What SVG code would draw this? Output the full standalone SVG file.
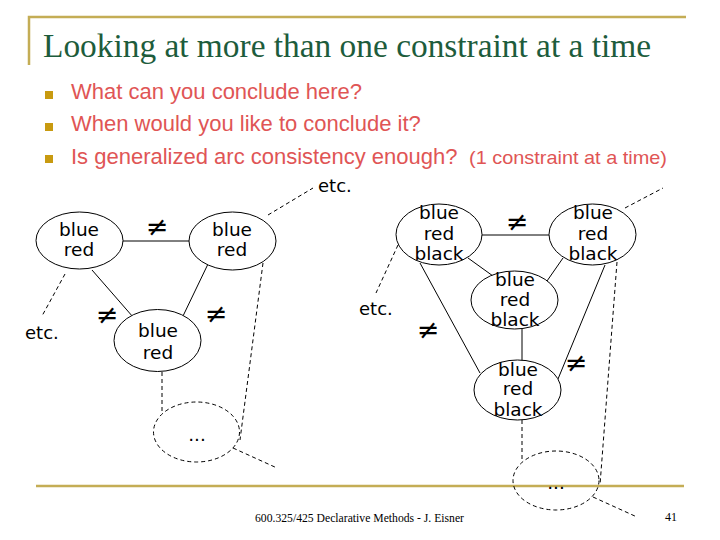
<svg xmlns="http://www.w3.org/2000/svg" width="720" height="540" viewBox="0 0 720 540">
<style>
.rule{stroke:#c4ad55;stroke-width:2.5;fill:none}
.title{font-family:"Liberation Serif","Times New Roman",serif;font-size:33px;fill:#1d5c3c}
.body{font-family:"Liberation Sans",Arial,sans-serif;font-size:22px;fill:#e05555}
.small{font-family:"Liberation Sans",Arial,sans-serif;font-size:19px;fill:#e05555}
.bul{fill:#c89a10}
.node{fill:#fff;stroke:#000;stroke-width:1}
.dnode{fill:none;stroke:#000;stroke-width:1;stroke-dasharray:4 3}
.lab{font-family:"DejaVu Sans",Verdana,sans-serif;font-size:18.5px;fill:#000;text-anchor:middle}
.etc{font-family:"DejaVu Sans",Verdana,sans-serif;font-size:18px;fill:#000}
.ne{font-family:"DejaVu Sans",sans-serif;font-size:27px;fill:#000;text-anchor:middle}
.edge{stroke:#000;stroke-width:1;fill:none}
.dash{stroke:#000;stroke-width:1;fill:none;stroke-dasharray:4 3}
.foot{font-family:"Liberation Serif","Times New Roman",serif;font-size:12px;fill:#000}
</style>
<rect width="720" height="540" fill="#fff"/>
<g id="frame">
<path class="rule" d="M29 65V17H686"/>
<line class="rule" x1="36" y1="486" x2="684" y2="486"/>
</g>
<text class="title" x="43" y="57" textLength="608" lengthAdjust="spacingAndGlyphs">Looking at more than one constraint at a time</text>
<g id="bullets">
<rect class="bul" x="45" y="91" width="8" height="8"/>
<rect class="bul" x="45" y="123" width="8" height="8"/>
<rect class="bul" x="45" y="155" width="8" height="8"/>
<text class="body" x="71" y="99">What can you conclude here?</text>
<text class="body" x="71" y="131">When would you like to conclude it?</text>
<text class="body" x="71" y="164">Is generalized arc consistency enough?</text>
<text class="small" x="469" y="164" textLength="198" lengthAdjust="spacingAndGlyphs">(1 constraint at a time)</text>
</g>
<g id="connectors">
<line class="edge" x1="123" y1="241" x2="189" y2="241"/>
<line class="edge" x1="92" y1="270" x2="133" y2="317"/>
<line class="edge" x1="208" y1="264" x2="183" y2="316"/>
<line class="edge" x1="482" y1="235" x2="549" y2="235"/>
<line class="edge" x1="468" y1="258" x2="493" y2="276"/>
<line class="edge" x1="563" y1="258" x2="547" y2="281"/>
<line class="edge" x1="522" y1="329" x2="522" y2="362"/>
<line class="edge" x1="420" y1="263" x2="480" y2="373"/>
<line class="edge" x1="605" y1="265" x2="558" y2="379"/>
<line class="dash" x1="65" y1="274" x2="42" y2="316"/>
<line class="dash" x1="268" y1="215" x2="313" y2="188"/>
<line class="dash" x1="162" y1="372" x2="162" y2="413"/>
<line class="dash" x1="263" y1="263" x2="240" y2="440"/>
<line class="dash" x1="233" y1="448" x2="277" y2="468"/>
<line class="dash" x1="398" y1="245" x2="376" y2="293"/>
<line class="dash" x1="625" y1="208" x2="663" y2="188"/>
<line class="dash" x1="522" y1="420" x2="522" y2="462"/>
<line class="dash" x1="617" y1="262" x2="600" y2="485"/>
<line class="dash" x1="593" y1="497" x2="637" y2="517"/>
<text class="ne" x="157" y="236">≠</text>
<text class="ne" x="107" y="324">≠</text>
<text class="ne" x="216" y="323">≠</text>
<text class="ne" x="517" y="231">≠</text>
<text class="ne" x="428" y="339">≠</text>
<text class="ne" x="576" y="372">≠</text>
</g>
<g id="L1"><ellipse class="node" cx="79.5" cy="240.5" rx="43.5" ry="28.5"/><text class="lab" x="79" y="236">blue</text><text class="lab" x="79" y="256">red</text></g>
<g id="L2"><ellipse class="node" cx="232.5" cy="241" rx="43.5" ry="29"/><text class="lab" x="232" y="236">blue</text><text class="lab" x="232" y="256">red</text></g>
<g id="L3"><ellipse class="node" cx="157.5" cy="340.5" rx="43.5" ry="31"/><text class="lab" x="158" y="337">blue</text><text class="lab" x="158" y="359">red</text></g>
<g id="LD"><ellipse class="dnode" cx="196.5" cy="432" rx="43" ry="30"/><text class="lab" x="197" y="441">...</text></g>
<g id="RA"><ellipse class="node" cx="439" cy="234.5" rx="43" ry="30.5"/><text class="lab" x="439" y="219">blue</text><text class="lab" x="439" y="240">red</text><text class="lab" x="439" y="260">black</text></g>
<g id="RB"><ellipse class="node" cx="592.5" cy="234.5" rx="43.5" ry="30.5"/><text class="lab" x="593" y="219">blue</text><text class="lab" x="593" y="240">red</text><text class="lab" x="593" y="260">black</text></g>
<g id="RC"><ellipse class="node" cx="514.5" cy="300" rx="43.5" ry="29"/><text class="lab" x="515" y="286">blue</text><text class="lab" x="515" y="306">red</text><text class="lab" x="515" y="326">black</text></g>
<g id="RD"><ellipse class="node" cx="517.5" cy="390" rx="43.5" ry="30"/><text class="lab" x="518" y="376">blue</text><text class="lab" x="518" y="395">red</text><text class="lab" x="518" y="416">black</text></g>
<g id="RDd"><ellipse class="dnode" cx="556" cy="480.5" rx="43" ry="29.5"/><text class="lab" x="556" y="489">...</text></g>
<g id="etc1"><text class="etc" x="318" y="192">etc.</text></g>
<g id="etc2"><text class="etc" x="25" y="339">etc.</text></g>
<g id="etc3"><text class="etc" x="359" y="315">etc.</text></g>
<text class="foot" x="255" y="522" textLength="209" lengthAdjust="spacingAndGlyphs">600.325/425 Declarative Methods - J. Eisner</text>
<text class="foot" x="665" y="521">41</text>
</svg>
